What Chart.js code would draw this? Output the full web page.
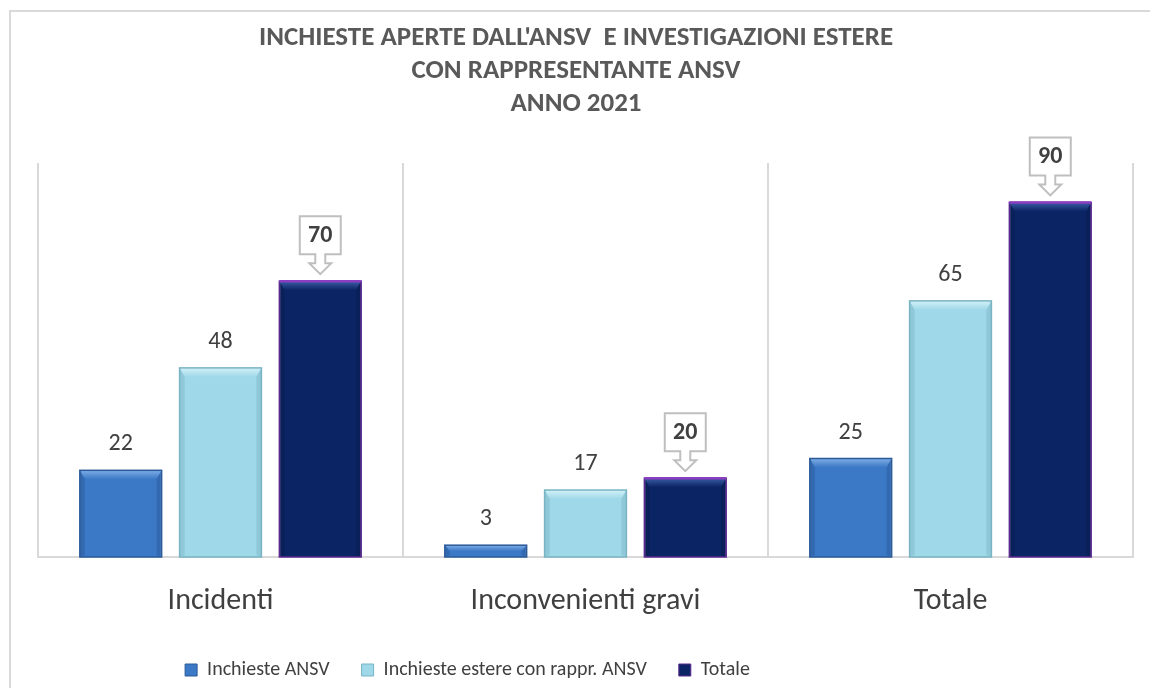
<!DOCTYPE html>
<html>
<head>
<meta charset="utf-8">
<script src="https://cdn.jsdelivr.net/npm/chart.js@4"></script>
<style>
  body { margin: 0; background: #fff; }
  #wrap { width: 1150px; height: 688px; }
</style>
</head>
<body>
<div id="wrap"><canvas id="chart" width="1150" height="688"></canvas></div>
<script>
const FONT = '"Carlito", "Liberation Sans Narrow", "DejaVu Sans Condensed", sans-serif';

// data
const categories = ['Incidenti', 'Inconvenienti gravi', 'Totale'];
const seriesNames = ['Inchieste ANSV', 'Inchieste estere con rappr. ANSV', 'Totale'];
const inchiesteAnsv = [22, 3, 25];
const inchiesteEstere = [48, 17, 65];
const totale = [70, 20, 90];
const titleLines = ["INCHIESTE APERTE DALL'ANSV  E INVESTIGAZIONI ESTERE", 'CON RAPPRESENTANTE ANSV', 'ANNO 2021'];

// bevel colours per series
const bevels = [
  { top: '#7eaee6', side: '#2b5d9e' },
  { top: '#d2f1f8', side: '#7fbccc' },
  { top: '#3b5ca6', side: '#0a1d52' }
];

// outer frame + title
const framePlugin = {
  id: 'frame',
  afterLayout(chart) {
    // legend in the original sits left of centre
    if (chart.legend) {
      chart.legend.left -= 118;
      chart.legend.right -= 118;
      chart.legend.top += 3;
      chart.legend.bottom += 3;
    }
  },
  beforeDraw(chart) {
    const ctx = chart.ctx;
    ctx.save();
    ctx.strokeStyle = '#d9d9d9';
    ctx.lineWidth = 2;
    ctx.beginPath();
    ctx.moveTo(10, 700);
    ctx.lineTo(10, 11);
    ctx.lineTo(1160, 11);
    ctx.stroke();
    ctx.fillStyle = '#595959';
    ctx.font = 'bold 27px ' + FONT;
    ctx.textAlign = 'center';
    ctx.textBaseline = 'middle';
    titleLines.forEach((t, i) => ctx.fillText(t, 576, 38 + i * 33));
    ctx.restore();
  }
};

// bevel look on bars, value labels, callouts on totals
const barDecor = {
  id: 'barDecor',
  afterDatasetsDraw(chart) {
    const ctx = chart.ctx;
    ctx.save();
    chart.data.datasets.forEach((ds, di) => {
      const meta = chart.getDatasetMeta(di);
      const bv = bevels[di];
      meta.data.forEach((bar, i) => {
        const l = bar.x - bar.width / 2, r = bar.x + bar.width / 2;
        const t = bar.y, b = bar.base;
        const h = b - t;
        const tb = Math.min(9, h / 2), sb = Math.min(5, bar.width / 2);
        let g = ctx.createLinearGradient(0, t, 0, t + tb);
        g.addColorStop(0, bv.top);
        g.addColorStop(1, ds.backgroundColor);
        ctx.fillStyle = g;
        ctx.beginPath();
        ctx.moveTo(l, t); ctx.lineTo(r, t); ctx.lineTo(r - sb, t + tb); ctx.lineTo(l + sb, t + tb); ctx.closePath();
        ctx.fill();
        ctx.fillStyle = bv.side;
        ctx.globalAlpha = 0.55;
        ctx.beginPath();
        ctx.moveTo(l, t); ctx.lineTo(l + sb, t + tb); ctx.lineTo(l + sb, b - 2); ctx.lineTo(l, b); ctx.closePath();
        ctx.fill();
        ctx.beginPath();
        ctx.moveTo(r, t); ctx.lineTo(r - sb, t + tb); ctx.lineTo(r - sb, b - 2); ctx.lineTo(r, b); ctx.closePath();
        ctx.fill();
        ctx.globalAlpha = 1;
        ctx.strokeStyle = ds.borderColor;
        ctx.lineWidth = 1.5;
        ctx.strokeRect(l, t, r - l, h);
        if (di === 2) {
          ctx.strokeStyle = '#8a3fc0';
          ctx.lineWidth = 2.5;
          ctx.beginPath(); ctx.moveTo(l, t); ctx.lineTo(r, t); ctx.stroke();
        }

        const v = ds.data[i];
        ctx.textAlign = 'center';
        ctx.textBaseline = 'middle';
        if (di < 2) {
          ctx.fillStyle = '#404040';
          ctx.font = '24px ' + FONT;
          ctx.fillText(String(v), bar.x, t - 26);
        } else {
          // callout box with down arrow
          const cx = bar.x;
          const bw = 41, boxTop = t - 65, boxBot = t - 27, headTop = t - 18, tip = t - 7;
          ctx.beginPath();
          ctx.moveTo(cx - bw / 2, boxTop);
          ctx.lineTo(cx + bw / 2, boxTop);
          ctx.lineTo(cx + bw / 2, boxBot);
          ctx.lineTo(cx + 5, boxBot);
          ctx.lineTo(cx + 5, headTop);
          ctx.lineTo(cx + 11, headTop);
          ctx.lineTo(cx, tip);
          ctx.lineTo(cx - 11, headTop);
          ctx.lineTo(cx - 5, headTop);
          ctx.lineTo(cx - 5, boxBot);
          ctx.lineTo(cx - bw / 2, boxBot);
          ctx.closePath();
          ctx.fillStyle = '#ffffff';
          ctx.fill();
          ctx.strokeStyle = '#bfbfbf';
          ctx.lineWidth = 2;
          ctx.stroke();
          ctx.fillStyle = '#404040';
          ctx.font = 'bold 24px ' + FONT;
          ctx.fillText(String(v), cx, (boxTop + boxBot) / 2 + 1);
        }
      });
    });
    ctx.restore();
  }
};

new Chart(document.getElementById('chart'), {
  type: 'bar',
  data: {
    labels: categories,
    datasets: [
      { label: seriesNames[0], data: inchiesteAnsv, backgroundColor: '#3b78c6', borderColor: '#2a5a98', borderWidth: 1 },
      { label: seriesNames[1], data: inchiesteEstere, backgroundColor: '#9fd8e8', borderColor: '#78b4c4', borderWidth: 1 },
      { label: seriesNames[2], data: totale, backgroundColor: '#0b2463', borderColor: '#5a2a90', borderWidth: 1 }
    ]
  },
  options: {
    responsive: false,
    animation: false,
    layout: { padding: { left: 38, right: 17, top: 163, bottom: 1 } },
    datasets: { bar: { categoryPercentage: 0.82, barPercentage: 0.82 } },
    scales: {
      x: {
        grid: { offset: true, color: '#d9d9d9', lineWidth: 2, drawTicks: false },
        border: { display: true, color: '#d9d9d9', width: 2 },
        ticks: { color: '#404040', font: { family: FONT, size: 30 }, padding: 26 },
        afterFit(scale) { scale.height = 68; }
      },
      y: { display: false, min: 0, max: 100 }
    },
    plugins: {
      tooltip: { enabled: false },
      legend: {
        position: 'bottom',
        labels: {
          color: '#404040',
          font: { family: FONT, size: 20 },
          boxWidth: 12,
          boxHeight: 12,
          padding: 32
        }
      }
    }
  },
  plugins: [framePlugin, barDecor]
});
</script>
</body>
</html>
